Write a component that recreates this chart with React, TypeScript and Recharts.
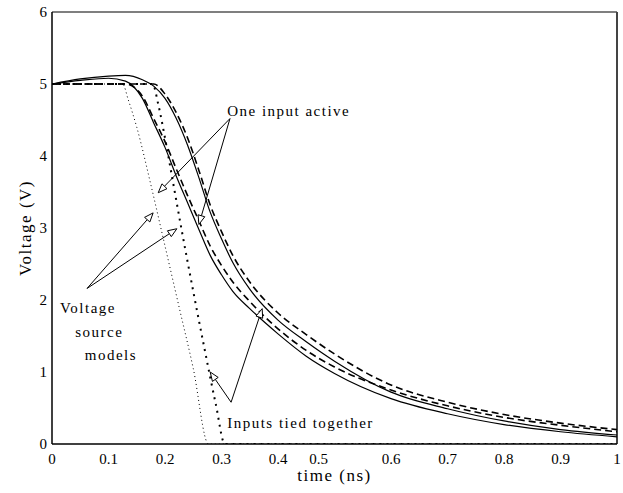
import React from 'react';
import { LineChart, Line, XAxis, YAxis, ReferenceLine, ReferenceDot } from 'recharts';

// Shared time grid (ns) for the four "one input active" curves
const timeGrid = [0, 0.05, 0.1, 0.13, 0.16, 0.18, 0.2, 0.22, 0.24, 0.26, 0.28, 0.3, 0.32, 0.35, 0.4, 0.45, 0.5, 0.6, 0.7, 0.8, 0.9, 1.0];
const solidA = [5.0, 5.05, 5.08, 5.04, 4.8, 4.46, 4.12, 3.72, 3.35, 2.98, 2.62, 2.35, 2.12, 1.88, 1.53, 1.22, 0.98, 0.63, 0.42, 0.27, 0.17, 0.1];
const solidB = [5.0, 5.07, 5.11, 5.12, 5.06, 4.97, 4.8, 4.52, 4.15, 3.7, 3.22, 2.85, 2.52, 2.15, 1.72, 1.42, 1.15, 0.72, 0.49, 0.32, 0.2, 0.125];
const dashedA = [5.0, 5.0, 5.0, 5.0, 4.83, 4.52, 4.2, 3.82, 3.45, 3.1, 2.75, 2.48, 2.25, 1.98, 1.6, 1.3, 1.07, 0.75, 0.53, 0.37, 0.26, 0.17];
const dashedB = [5.0, 5.0, 5.0, 5.0, 5.0, 5.0, 4.86, 4.6, 4.25, 3.8, 3.32, 2.95, 2.62, 2.25, 1.82, 1.52, 1.25, 0.82, 0.58, 0.41, 0.29, 0.2];

// Voltage source models (dotted)
const thinDotT = [0, 0.125, 0.135, 0.15, 0.175, 0.2, 0.225, 0.25, 0.277, 1.0];
const thinDotV = [5, 5, 4.78, 4.4, 3.6, 2.75, 1.9, 1.05, 0, 0];
const thickDotT = [0, 0.178, 0.188, 0.2, 0.215, 0.23, 0.25, 0.27, 0.29, 0.306, 1.0];
const thickDotV = [5, 5, 4.72, 4.25, 3.6, 2.95, 2.12, 1.32, 0.55, 0, 0];

const xTicks = [0, 0.1, 0.2, 0.3, 0.4, 0.5, 0.6, 0.7, 0.8, 0.9, 1];
const yTicks = [0, 1, 2, 3, 4, 5, 6];

const noteTexts = ['One input active', 'Voltage', 'source', 'models', 'Inputs tied together'];
const noteT = [0.31, 0.014, 0.041, 0.058, 0.31];
const noteV = [4.55, 1.82, 1.49, 1.17, 0.22];

const arrowFromT = [0.315, 0.315, 0.062, 0.062, 0.317, 0.317];
const arrowFromV = [4.52, 4.52, 2.16, 2.16, 0.58, 0.58];
const arrowToT = [0.188, 0.26, 0.179, 0.221, 0.28, 0.372];
const arrowToV = [3.49, 3.05, 3.21, 2.99, 1.0, 1.88];

const zip = (ts: number[], vs: number[]) => ts.map((t, i) => ({ t, v: vs[i] }));

const FONT = 'Liberation Serif, Times New Roman, serif';

const ArrowShape = (p: any) => {
  const { x1, y1, x2, y2 } = p;
  const dx = x2 - x1;
  const dy = y2 - y1;
  const len = Math.hypot(dx, dy) || 1;
  const ux = dx / len;
  const uy = dy / len;
  const L = 9;
  const W = 3.5;
  const bx = x2 - ux * L;
  const by = y2 - uy * L;
  const pts = `${x2},${y2} ${bx - uy * W},${by + ux * W} ${bx + uy * W},${by - ux * W}`;
  return (
    <g>
      <line x1={x1} y1={y1} x2={bx} y2={by} stroke="#000" strokeWidth={1} />
      <polygon points={pts} fill="#fff" stroke="#000" strokeWidth={1} />
    </g>
  );
};

const XTick = (p: any) => {
  const { x, y, payload } = p;
  const shift = payload.value === 0.5 ? -16 : 0;
  return (
    <text x={x + shift} y={y} dy="0.71em" textAnchor="middle" fontFamily={FONT} fontSize={15} fill="#000">
      {String(payload.value)}
    </text>
  );
};

const YTick = (p: any) => {
  const { x, y, payload } = p;
  return (
    <text x={x} y={y} dy="0.355em" textAnchor="end" fontFamily={FONT} fontSize={15} fill="#000">
      {String(payload.value)}
    </text>
  );
};

const XLabel = (p: any) => {
  const vb = p.viewBox || { x: 0, y: 0, width: 0, height: 0 };
  return (
    <text x={vb.x + vb.width / 2} y={vb.y + 37} textAnchor="middle" fontFamily={FONT} fontSize={17} letterSpacing={1.5} fill="#000">
      time (ns)
    </text>
  );
};

const YLabel = (p: any) => {
  const vb = p.viewBox || { x: 0, y: 0, width: 0, height: 0 };
  const cx = vb.x + 31;
  const cy = vb.y + vb.height / 2;
  return (
    <text x={cx} y={cy} transform={`rotate(-90, ${cx}, ${cy})`} textAnchor="middle" fontFamily={FONT} fontSize={17} letterSpacing={1.5} fill="#000">
      Voltage (V)
    </text>
  );
};

export default function App() {
  return (
    <div style={{ position: 'absolute', left: 0, top: 0, width: 623, height: 493, background: '#fff' }}>
      <LineChart width={623} height={493} margin={{ top: 12, right: 6, left: 0, bottom: 0 }}>
        <XAxis
          dataKey="t"
          type="number"
          domain={[0, 1]}
          ticks={xTicks}
          interval={0}
          allowDataOverflow
          height={49}
          tickLine={false}
          tickSize={4}
          tickMargin={5}
          tick={<XTick />}
          axisLine={{ stroke: '#000', strokeWidth: 1.5 }}
          label={<XLabel />}
        />
        <YAxis
          type="number"
          domain={[0, 6]}
          ticks={yTicks}
          interval={0}
          allowDataOverflow
          width={52}
          tickLine={false}
          tickSize={4}
          tickMargin={1}
          tick={<YTick />}
          axisLine={{ stroke: '#000', strokeWidth: 1.5 }}
          label={<YLabel />}
        />
        <ReferenceLine y={6} stroke="#555" strokeWidth={1.5} />
        <ReferenceLine x={1} stroke="#444" strokeWidth={2} />

        <Line data={zip(thinDotT, thinDotV)} dataKey="v" type="monotone" stroke="#000" strokeWidth={1} strokeDasharray="1 3" dot={false} isAnimationActive={false} />
        <Line data={zip(thickDotT, thickDotV)} dataKey="v" type="monotone" stroke="#000" strokeWidth={2} strokeDasharray="2 5" dot={false} isAnimationActive={false} />
        <Line data={zip(timeGrid, dashedA)} dataKey="v" type="monotone" stroke="#000" strokeWidth={1.6} strokeDasharray="7 4" dot={false} isAnimationActive={false} />
        <Line data={zip(timeGrid, dashedB)} dataKey="v" type="monotone" stroke="#000" strokeWidth={1.6} strokeDasharray="7 4" dot={false} isAnimationActive={false} />
        <Line data={zip(timeGrid, solidA)} dataKey="v" type="monotone" stroke="#000" strokeWidth={1.2} dot={false} isAnimationActive={false} />
        <Line data={zip(timeGrid, solidB)} dataKey="v" type="monotone" stroke="#000" strokeWidth={1.2} dot={false} isAnimationActive={false} />

        {arrowFromT.map((ft, i) => (
          <ReferenceLine
            key={'a' + i}
            segment={[{ x: ft, y: arrowFromV[i] }, { x: arrowToT[i], y: arrowToV[i] }]}
            shape={<ArrowShape />}
            ifOverflow="visible"
          />
        ))}
        {noteTexts.map((txt, i) => (
          <ReferenceDot
            key={'n' + i}
            x={noteT[i]}
            y={noteV[i]}
            r={1}
            ifOverflow="visible"
            shape={(p: any) => (
              <text x={p.cx} y={p.cy} fontFamily={FONT} fontSize={15} letterSpacing={1.5} fill="#000">
                {txt}
              </text>
            )}
          />
        ))}
      </LineChart>
    </div>
  );
}
